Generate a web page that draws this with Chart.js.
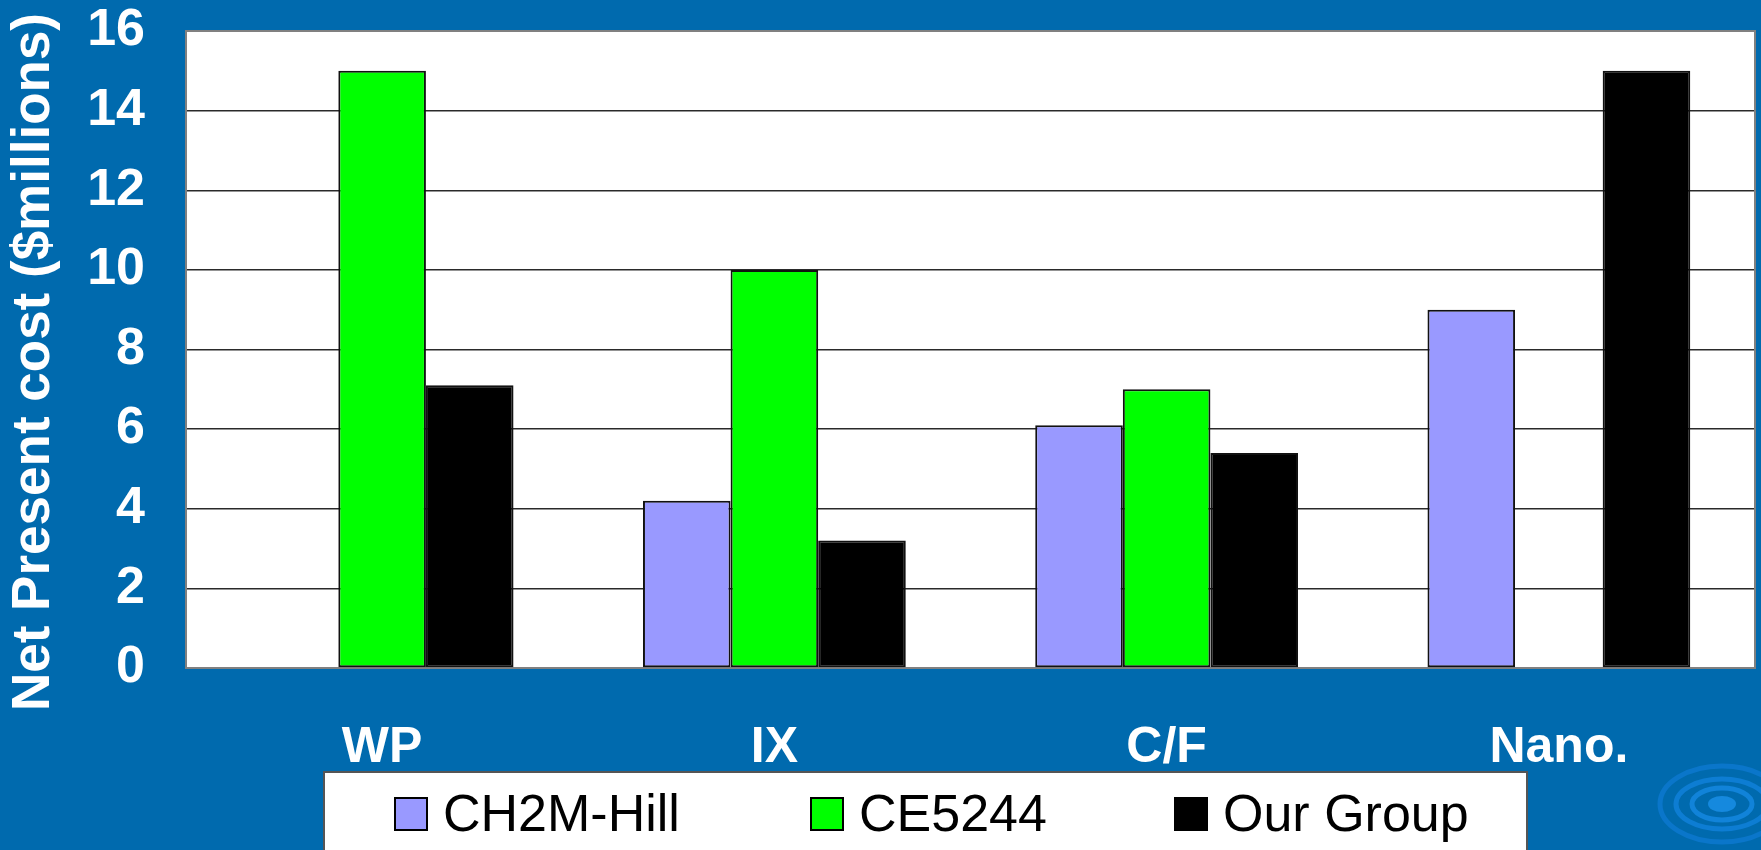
<!DOCTYPE html>
<html>
<head>
<meta charset="utf-8">
<script src="https://cdn.jsdelivr.net/npm/chart.js@4.4.0/dist/chart.umd.min.js"></script>
<style>
  html, body { margin: 0; padding: 0; background: #006AAE; overflow: hidden; }
  #wrap { position: relative; width: 1761px; height: 850px; }
  canvas { display: block; }
  #legend {
    position: absolute; left: 323px; top: 771px; width: 1205px; height: 100px;
    background: #fff; border: 2px solid #555; box-sizing: border-box;
    font-family: "Liberation Sans", Arial, sans-serif; font-size: 52px; color: #000;
  }
  .item { position: absolute; top: 24px; height: 34px; display: flex; align-items: center; white-space: nowrap; }
  .swatch { width: 34px; height: 34px; border: 2px solid #000; box-sizing: border-box; margin-right: 15px; flex: none; }
  .label { line-height: 34px; position: relative; top: -1px; }
</style>
</head>
<body>
<div id="wrap">
  <canvas id="chart" width="1761" height="850"></canvas>
  <div id="legend"></div>
</div>
<script>
// Categories and series values (net present cost, $ millions)
const categories = ['WP', 'IX', 'C/F', 'Nano.'];
const ch2mHill  = [null, 4.2, 6.1, 9.0];
const ce5244    = [15.0, 10.0, 7.0, null];
const ourGroup  = [7.1, 3.2, 5.4, 15.0];

const seriesNames  = ['CH2M-Hill', 'CE5244', 'Our Group'];
const seriesColors = ['#9999FF', '#00FF00', '#000000'];

// Value axis range
const yMin = 0;
const yMax = 16;
const yStep = 2;
const yTitle = 'Net Present cost ($millions)';

const FONT = '"Liberation Sans", Arial, sans-serif';
const BG = '#006AAE';

// Legend item offsets inside the white legend box
const legendOffsets = [69, 485, 849];

// Canvas background, white plot area and its grey frame, ripple ornament, axis title
const framePlugin = {
  id: 'frame',
  beforeDraw(chart) {
    const { ctx, chartArea: a } = chart;
    ctx.save();
    ctx.fillStyle = BG;
    ctx.fillRect(0, 0, chart.width, chart.height);

    // ripple ornament in the lower right corner
    const cx = 1722, cy = 804;
    ctx.lineWidth = 5;
    [[62, 38, '#0A76CA'], [46, 25, '#0D7DD3'], [30, 16, '#1183D9']].forEach(([rx, ry, c]) => {
      ctx.strokeStyle = c;
      ctx.beginPath();
      ctx.ellipse(cx, cy, rx, ry, 0, 0, Math.PI * 2);
      ctx.stroke();
    });
    ctx.fillStyle = '#1589DE';
    ctx.beginPath();
    ctx.ellipse(cx, cy, 14, 8, 0, 0, Math.PI * 2);
    ctx.fill();

    ctx.fillStyle = '#FFFFFF';
    ctx.fillRect(a.left, a.top, a.right - a.left, a.bottom - a.top);

    // rotated value-axis title
    ctx.translate(34, 362);
    ctx.rotate(-Math.PI / 2);
    ctx.fillStyle = '#FFFFFF';
    ctx.font = 'bold 53px ' + FONT;
    ctx.textAlign = 'center';
    ctx.textBaseline = 'middle';
    ctx.fillText(yTitle, 0, 0);
    ctx.restore();
  },
  beforeDatasetsDraw(chart) {
    const { ctx, chartArea: a } = chart;
    ctx.save();
    ctx.strokeStyle = '#808080';
    ctx.lineWidth = 2;
    ctx.strokeRect(a.left, a.top, a.right - a.left, a.bottom - a.top);
    ctx.restore();
  }
};

const datasets = [ch2mHill, ce5244, ourGroup].map((values, i) => ({
  label: seriesNames[i],
  data: values,
  backgroundColor: seriesColors[i],
  borderColor: '#111111',
  borderWidth: 2,
  borderSkipped: false,
  categoryPercentage: 0.67,
  barPercentage: 1.0
}));

new Chart(document.getElementById('chart'), {
  type: 'bar',
  data: { labels: categories, datasets },
  options: {
    responsive: false,
    animation: false,
    events: [],
    layout: { padding: { top: 31, right: 6, left: 0, bottom: 0 } },
    plugins: {
      legend: { display: false },
      tooltip: { enabled: false }
    },
    scales: {
      x: {
        grid: { display: false, drawTicks: false },
        border: { display: false },
        ticks: {
          color: '#FFFFFF',
          font: { family: FONT, size: 50, weight: 'bold' },
          padding: 50,
          maxRotation: 0
        },
        afterFit(scale) { scale.height = 182; }
      },
      y: {
        min: yMin,
        max: yMax,
        ticks: {
          stepSize: yStep,
          color: '#FFFFFF',
          font: { family: FONT, size: 52, weight: 'bold', lineHeight: 0.5 },
          padding: 41
        },
        grid: { color: '#2A2A2A', lineWidth: 1.5, drawTicks: false },
        border: { display: false },
        afterFit(scale) { scale.width = 186; scale.paddingTop = 0; scale.paddingBottom = 0; }
      }
    }
  },
  plugins: [framePlugin]
});

// HTML legend built from the series arrays
const legend = document.getElementById('legend');
seriesNames.forEach((name, i) => {
  const item = document.createElement('div');
  item.className = 'item';
  item.style.left = legendOffsets[i] + 'px';
  const sw = document.createElement('span');
  sw.className = 'swatch';
  sw.style.background = seriesColors[i];
  const txt = document.createElement('span');
  txt.className = 'label';
  txt.textContent = name;
  item.appendChild(sw);
  item.appendChild(txt);
  legend.appendChild(item);
});
</script>
</body>
</html>
